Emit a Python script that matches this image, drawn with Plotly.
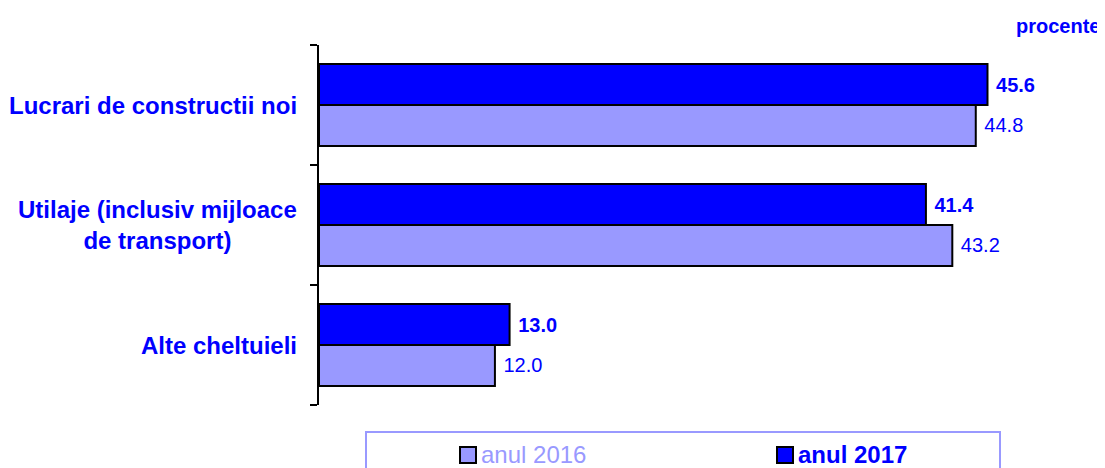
import plotly.graph_objects as go

# ---- data ----
categories = ["Lucrari de constructii noi", "Utilaje (inclusiv mijloace<br>de transport)", "Alte cheltuieli"]
cat_keys = ["Lucrari", "Utilaje", "Alte"]
values_2016 = [44.8, 43.2, 12.0]
values_2017 = [45.6, 41.4, 13.0]
series_names = ["anul 2016", "anul 2017"]
unit_label = "procente"

# ---- style ----
OFF = 8  # page body margin of the browser
W, H = 1105 - OFF, 468 - OFF
PLOT_L, PLOT_R, PLOT_T, PLOT_B = 319, 1052, 45, 405  # in reference pixels
ML = PLOT_L - OFF
MR = 1105 - PLOT_R
MT = PLOT_T - OFF
MB = 468 - PLOT_B
FONT = "Liberation Sans, Arial, sans-serif"
BLUE = "#0000FF"
LIGHT = "#9999FF"
PW = PLOT_R - PLOT_L
PH = PLOT_B - PLOT_T


def px_x(px):
    return (px - PLOT_L) / PW


def px_y(py):
    return (PLOT_B - py) / PH


fig = go.Figure()
# plotted bottom-to-top within a group: 2016 below, 2017 above
fig.add_trace(go.Bar(
    y=cat_keys, x=values_2016, orientation="h", name=series_names[0],
    marker=dict(color=LIGHT, line=dict(color="black", width=2)),
    text=[f" {v:.1f}" for v in values_2016], textposition="outside",
    textfont=dict(family=FONT, size=20, color=BLUE),
    cliponaxis=False, showlegend=False,
))
fig.add_trace(go.Bar(
    y=cat_keys, x=values_2017, orientation="h", name=series_names[1],
    marker=dict(color=BLUE, line=dict(color="black", width=2)),
    text=[f" {v:.1f}" for v in values_2017], textposition="outside",
    textfont=dict(family=FONT, size=20, color=BLUE, weight="bold"),
    cliponaxis=False, showlegend=False,
))

annotations = []
for key, label in zip(cat_keys, categories):
    annotations.append(dict(
        x=0, xref="paper", y=key, yref="y", xanchor="right", yanchor="middle",
        xshift=-20, text=f"<b>{label}</b>", showarrow=False, align="center",
        font=dict(family=FONT, size=24, color=BLUE),
    ))
annotations.append(dict(
    x=px_x(1102), xref="paper", y=px_y(26), yref="paper", xanchor="right", yanchor="middle",
    text=f"<b>{unit_label}</b>", showarrow=False,
    font=dict(family=FONT, size=20, color=BLUE),
))

# manual legend
shapes = [dict(type="rect", xref="paper", yref="paper",
               x0=px_x(366), x1=px_x(1000), y0=px_y(432), y1=px_y(490),
               line=dict(color=LIGHT, width=2), fillcolor="rgba(0,0,0,0)")]
legend_items = [
    (460, series_names[0], LIGHT, LIGHT, False),
    (777, series_names[1], BLUE, BLUE, True),
]
for sx, name, fill, tcolor, bold in legend_items:
    shapes.append(dict(type="rect", xref="paper", yref="paper",
                       x0=px_x(sx), x1=px_x(sx + 16), y0=px_y(447), y1=px_y(463),
                       line=dict(color="black", width=2), fillcolor=fill))
    annotations.append(dict(
        x=px_x(sx + 19), xref="paper", y=px_y(454), yref="paper",
        xanchor="left", yanchor="middle", showarrow=False,
        text=f"<b>{name}</b>" if bold else name,
        font=dict(family=FONT, size=24, color=tcolor),
    ))

fig.update_layout(
    width=W, height=H,
    margin=dict(l=ML, r=MR, t=MT, b=MB, autoexpand=False),
    paper_bgcolor="white", plot_bgcolor="white",
    barmode="group", bargap=0.317, bargroupgap=0,
    showlegend=False,
    xaxis=dict(visible=False, range=[0, 50], fixedrange=True),
    yaxis=dict(
        type="category", categoryorder="array", categoryarray=cat_keys[::-1],
        tickson="boundaries", ticks="outside", ticklen=7, tickwidth=2, tickcolor="black",
        showline=True, linecolor="black", linewidth=2, showgrid=False,
        showticklabels=False, zeroline=False,
    ),
    annotations=annotations, shapes=shapes,
    font=dict(family=FONT),
)

fig.write_html("out.html")
